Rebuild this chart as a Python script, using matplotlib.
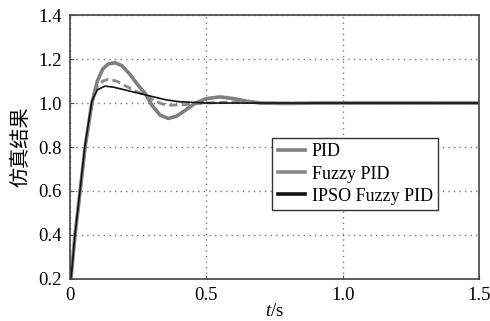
import matplotlib.pyplot as plt
from matplotlib.lines import Line2D

plt.rcParams['font.family'] = ['Liberation Serif', 'Noto Sans CJK SC']
plt.rcParams['mathtext.fontset'] = 'custom'
plt.rcParams['mathtext.it'] = 'Liberation Serif:italic'

# step response data
t_pid = [0, 0.004, 0.018, 0.037, 0.055, 0.08, 0.10, 0.12, 0.14, 0.165, 0.19, 0.22,
         0.25, 0.275, 0.30, 0.33, 0.36, 0.39, 0.42, 0.46, 0.50, 0.55, 0.60, 0.65,
         0.70, 0.80, 0.90, 1.0, 1.5]
pid = [0.2, 0.21, 0.40, 0.60, 0.80, 1.00, 1.10, 1.155, 1.178, 1.183, 1.17, 1.13,
       1.08, 1.044, 0.99, 0.945, 0.93, 0.94, 0.965, 1.0, 1.02, 1.028, 1.02, 1.008,
       1.0, 0.998, 1.0, 1.0, 1.0]

t_fuzzy = [0, 0.004, 0.018, 0.037, 0.055, 0.08, 0.10, 0.12, 0.14, 0.17, 0.20, 0.24,
           0.275, 0.31, 0.34, 0.37, 0.42, 0.50, 0.60, 0.70, 0.80, 1.0, 1.5]
fuzzy = [0.2, 0.21, 0.40, 0.60, 0.80, 1.00, 1.075, 1.10, 1.108, 1.10, 1.08, 1.055,
         1.036, 1.01, 0.995, 0.99, 0.993, 1.0, 1.005, 1.0, 1.0, 1.0, 1.0]

t_ipso = [0, 0.004, 0.018, 0.037, 0.055, 0.08, 0.10, 0.128, 0.16, 0.20, 0.25, 0.30,
          0.35, 0.40, 0.50, 0.60, 0.80, 1.0, 1.5]
ipso = [0.2, 0.21, 0.40, 0.61, 0.81, 1.01, 1.06, 1.077, 1.072, 1.06, 1.045, 1.03,
        1.015, 1.006, 1.0, 1.0, 1.0, 1.0, 1.0]

xticks = [0, 0.5, 1.0, 1.5]
xlabels = ['0', '0.5', '1.0', '1.5']
yticks = [0.2, 0.4, 0.6, 0.8, 1.0, 1.2, 1.4]
names = ['PID', 'Fuzzy PID', 'IPSO Fuzzy PID']

fig = plt.figure(figsize=(4.9, 3.21), dpi=100)
ax = fig.add_axes([0.143, 0.131, 0.835, 0.822])

ax.plot(t_pid, pid, color='#7f7f7f', lw=2.6)
ax.plot(t_fuzzy, fuzzy, color='#8a8a8a', lw=2.0, ls=(0, (3, 1.5)))
ax.plot(t_ipso, ipso, color='#111111', lw=1.2)

ax.set_xlim(0, 1.5)
ax.set_ylim(0.2, 1.4)
ax.set_xticks(xticks)
ax.set_xticklabels(xlabels)
ax.set_yticks(yticks)
ax.set_yticklabels(['%.1f' % v for v in yticks])
ax.tick_params(direction='in', labelsize=13.5, length=3, color='#555555')
ax.tick_params(axis='x', pad=6)
ax.tick_params(axis='y', pad=6)
ax.grid(True, ls=(0, (1, 3)), color='#777777', lw=1.0)
for s in ax.spines.values():
    s.set_color('#444444')
    s.set_linewidth(1.2)

ax.set_xlabel('$t$/s', fontsize=13.5, labelpad=-1)
ax.set_ylabel('仿真结果', fontsize=14.5, family=['Noto Sans CJK SC'], labelpad=5)

handles = [Line2D([], [], color='#7f7f7f', lw=2.6),
           Line2D([], [], color='#8a8a8a', lw=2.6),
           Line2D([], [], color='#111111', lw=2.6)]
leg = ax.legend(handles, names, loc='upper left', bbox_to_anchor=(0.494, 0.534),
                fontsize=13, handlelength=1.5, handletextpad=0.4, borderpad=0.3,
                labelspacing=0.28, fancybox=False, framealpha=1, borderaxespad=0)
leg.get_frame().set_edgecolor('#333333')
leg.get_frame().set_linewidth(1.0)

fig.savefig('out.png', dpi=100)
